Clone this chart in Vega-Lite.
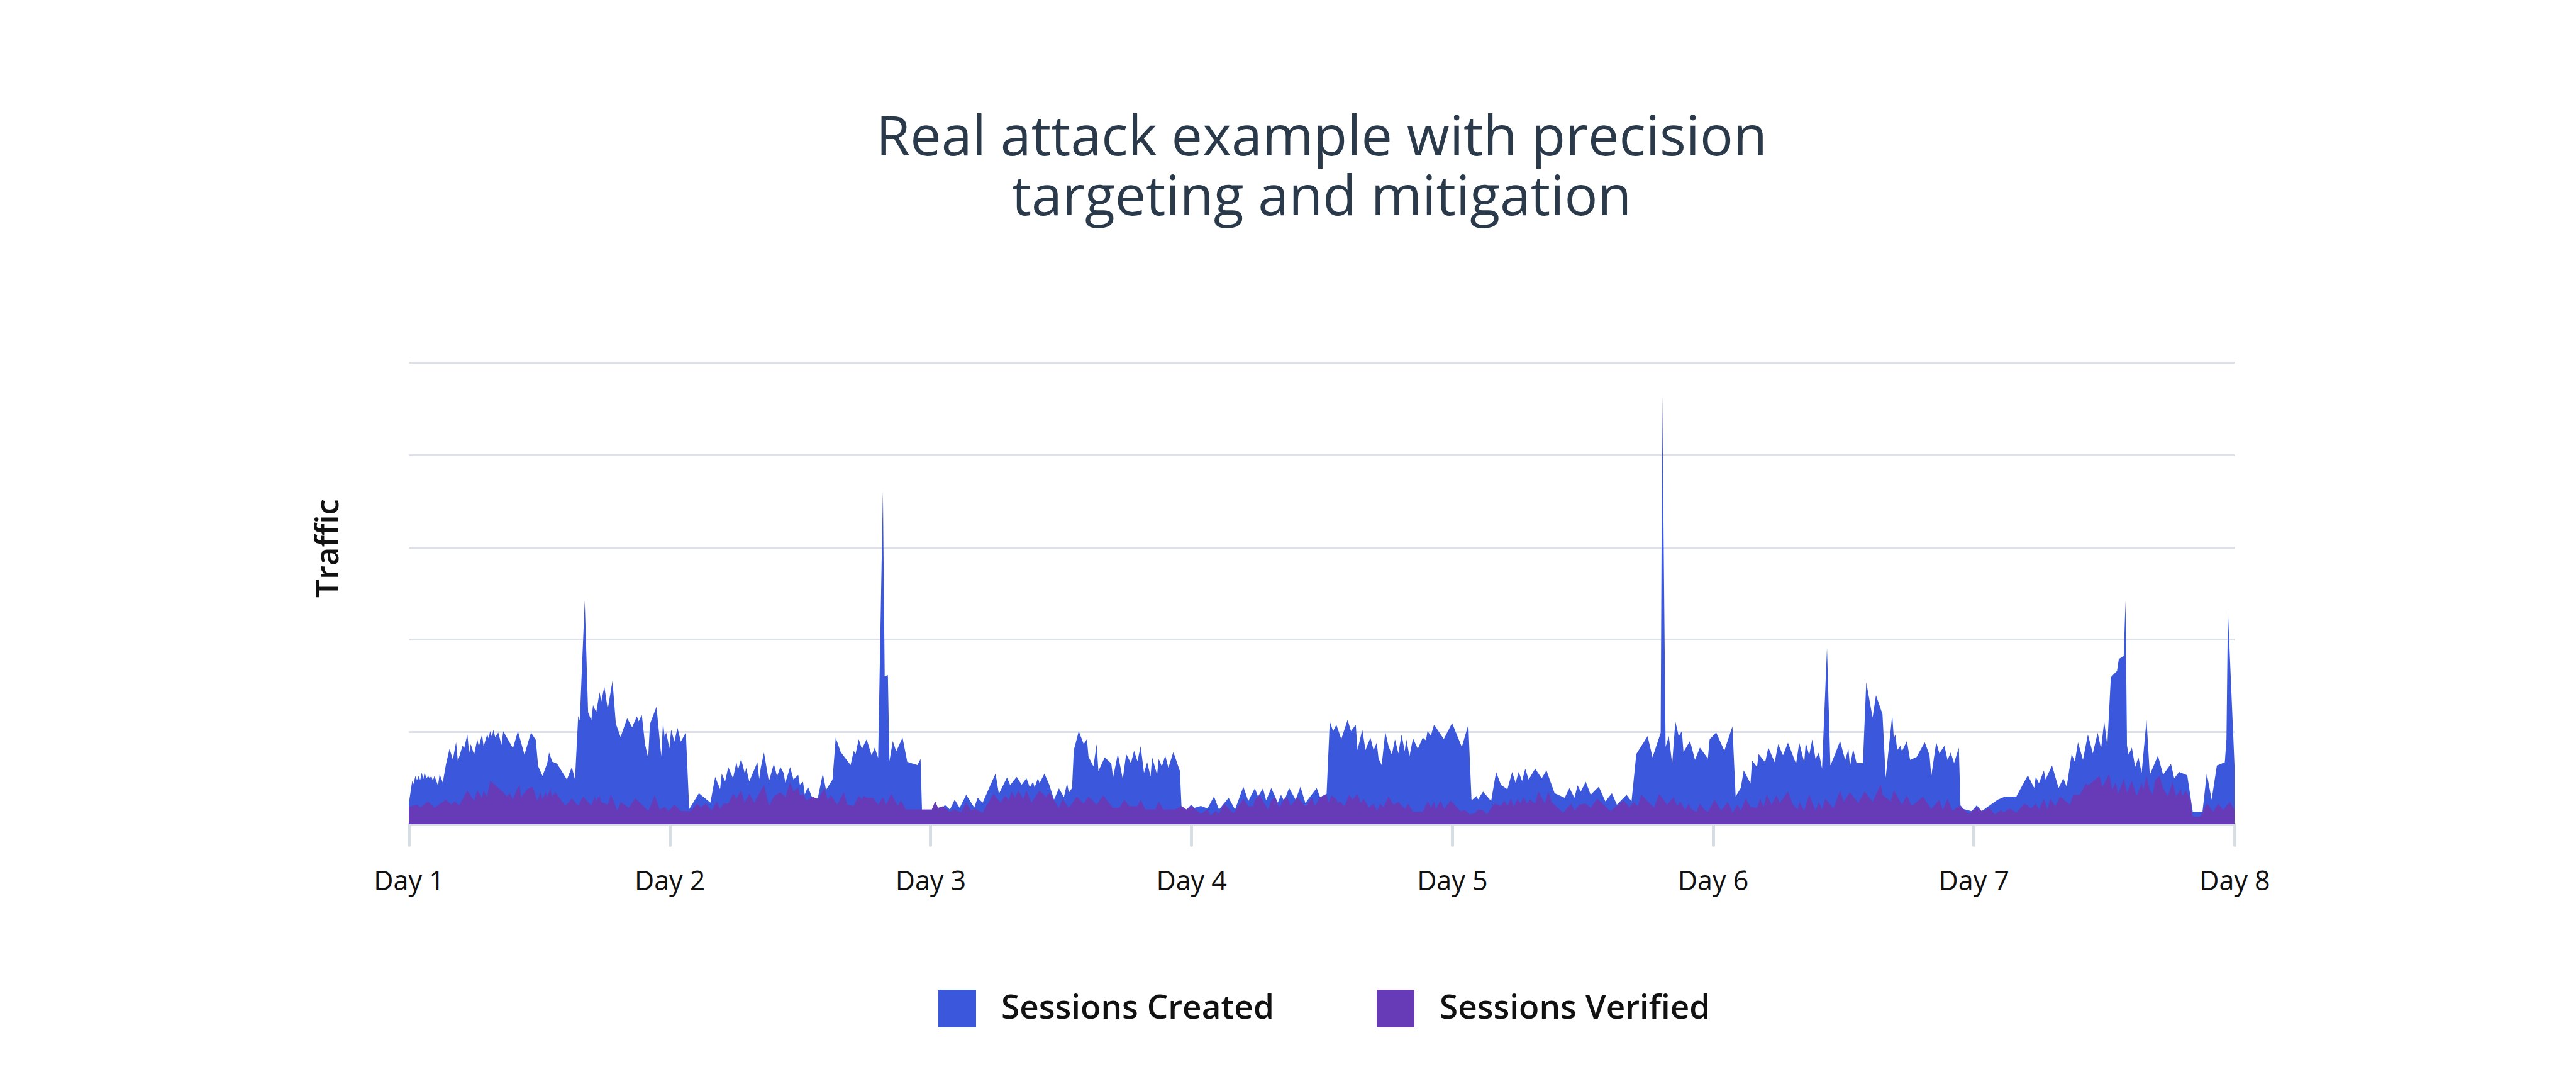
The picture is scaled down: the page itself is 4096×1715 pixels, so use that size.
{
"$schema": "https://vega.github.io/schema/vega-lite/v6.json",
"autosize": {"type": "none"},
"width": 2903,
"height": 734,
"padding": {"left": 650, "top": 576, "right": 543, "bottom": 405},
"background": "white",
"title": {"text": ["Real attack example with precision", "targeting and mitigation"], "anchor": "middle", "frame": "group", "font": "Open Sans", "fontSize": 88, "fontWeight": 500, "color": "#2b3a4a", "lineHeight": 95, "offset": 216},
"datasets": {
"created": [{"t":1.0,"v":0.223},{"t":1.0133,"v":0.47},{"t":1.0178,"v":0.435},{"t":1.0254,"v":0.523},{"t":1.0315,"v":0.477},{"t":1.0376,"v":0.523},{"t":1.0437,"v":0.477},{"t":1.0497,"v":0.558},{"t":1.0558,"v":0.488},{"t":1.0604,"v":0.558},{"t":1.068,"v":0.498},{"t":1.0741,"v":0.523},{"t":1.0802,"v":0.498},{"t":1.0862,"v":0.523},{"t":1.0923,"v":0.47},{"t":1.0984,"v":0.523},{"t":1.1121,"v":0.417},{"t":1.1182,"v":0.541},{"t":1.1303,"v":0.452},{"t":1.1425,"v":0.647},{"t":1.1562,"v":0.816},{"t":1.1691,"v":0.7},{"t":1.1813,"v":0.887},{"t":1.1881,"v":0.682},{"t":1.2063,"v":0.852},{"t":1.2124,"v":0.823},{"t":1.2246,"v":0.972},{"t":1.2314,"v":0.77},{"t":1.2375,"v":0.866},{"t":1.2504,"v":0.753},{"t":1.2626,"v":0.919},{"t":1.2687,"v":0.841},{"t":1.2808,"v":0.972},{"t":1.2869,"v":0.841},{"t":1.3006,"v":0.972},{"t":1.3059,"v":0.929},{"t":1.312,"v":1.007},{"t":1.3188,"v":0.947},{"t":1.3249,"v":1.025},{"t":1.331,"v":0.943},{"t":1.3432,"v":0.993},{"t":1.3553,"v":0.859},{"t":1.3622,"v":1.007},{"t":1.3994,"v":0.823},{"t":1.4184,"v":1.007},{"t":1.4435,"v":0.753},{"t":1.4686,"v":0.993},{"t":1.4868,"v":0.912},{"t":1.496,"v":0.629},{"t":1.5127,"v":0.523},{"t":1.5309,"v":0.661},{"t":1.5378,"v":0.777},{"t":1.5499,"v":0.678},{"t":1.5689,"v":0.654},{"t":1.6062,"v":0.484},{"t":1.6252,"v":0.618},{"t":1.6373,"v":0.484},{"t":1.6495,"v":1.17},{"t":1.6556,"v":1.124},{"t":1.6746,"v":2.42},{"t":1.6875,"v":1.212},{"t":1.6997,"v":1.124},{"t":1.7065,"v":1.29},{"t":1.7187,"v":1.212},{"t":1.7316,"v":1.431},{"t":1.7377,"v":1.325},{"t":1.7498,"v":1.488},{"t":1.7628,"v":1.247},{"t":1.781,"v":1.551},{"t":1.7939,"v":1.088},{"t":1.8122,"v":0.943},{"t":1.8373,"v":1.148},{"t":1.8563,"v":1.049},{"t":1.8745,"v":1.166},{"t":1.8813,"v":1.113},{"t":1.8935,"v":1.184},{"t":1.9057,"v":0.866},{"t":1.9178,"v":0.717},{"t":1.9247,"v":1.085},{"t":1.9498,"v":1.272},{"t":1.968,"v":0.735},{"t":1.9748,"v":1.106},{"t":1.9809,"v":0.947},{"t":1.987,"v":0.993},{"t":1.9992,"v":0.823},{"t":2.006,"v":1.025},{"t":2.0182,"v":0.894},{"t":2.0303,"v":1.042},{"t":2.0432,"v":0.894},{"t":2.0622,"v":0.993},{"t":2.0752,"v":0.163},{"t":2.1124,"v":0.336},{"t":2.1565,"v":0.233},{"t":2.1747,"v":0.512},{"t":2.1937,"v":0.378},{"t":2.1998,"v":0.548},{"t":2.2128,"v":0.463},{"t":2.2249,"v":0.618},{"t":2.2432,"v":0.498},{"t":2.2561,"v":0.671},{"t":2.2622,"v":0.59},{"t":2.2743,"v":0.707},{"t":2.2888,"v":0.541},{"t":2.2933,"v":0.611},{"t":2.3055,"v":0.463},{"t":2.3367,"v":0.671},{"t":2.3435,"v":0.488},{"t":2.3496,"v":0.611},{"t":2.3618,"v":0.777},{"t":2.3807,"v":0.463},{"t":2.3997,"v":0.654},{"t":2.4119,"v":0.519},{"t":2.4248,"v":0.618},{"t":2.437,"v":0.555},{"t":2.4438,"v":0.449},{"t":2.4621,"v":0.618},{"t":2.475,"v":0.484},{"t":2.4932,"v":0.534},{"t":2.4993,"v":0.428},{"t":2.5115,"v":0.459},{"t":2.5183,"v":0.322},{"t":2.5305,"v":0.406},{"t":2.5495,"v":0.265},{"t":2.5685,"v":0.286},{"t":2.5875,"v":0.548},{"t":2.5997,"v":0.371},{"t":2.6247,"v":0.484},{"t":2.6369,"v":0.936},{"t":2.6559,"v":0.781},{"t":2.6939,"v":0.64},{"t":2.7061,"v":0.795},{"t":2.7129,"v":0.76},{"t":2.7251,"v":0.919},{"t":2.7373,"v":0.816},{"t":2.7555,"v":0.919},{"t":2.7745,"v":0.746},{"t":2.7867,"v":0.83},{"t":2.7996,"v":0.717},{"t":2.8178,"v":3.604},{"t":2.8247,"v":1.601},{"t":2.8369,"v":1.615},{"t":2.8429,"v":0.682},{"t":2.8558,"v":0.901},{"t":2.8688,"v":0.788},{"t":2.8931,"v":0.936},{"t":2.9113,"v":0.675},{"t":2.9501,"v":0.64},{"t":2.9622,"v":0.707},{"t":2.9676,"v":0.159},{"t":3.0056,"v":0.159},{"t":3.0185,"v":0.247},{"t":3.0291,"v":0.124},{"t":3.0557,"v":0.208},{"t":3.0748,"v":0.159},{"t":3.093,"v":0.265},{"t":3.112,"v":0.177},{"t":3.1371,"v":0.318},{"t":3.1682,"v":0.18},{"t":3.1812,"v":0.286},{"t":3.2002,"v":0.233},{"t":3.2496,"v":0.548},{"t":3.2625,"v":0.329},{"t":3.2937,"v":0.505},{"t":3.3058,"v":0.424},{"t":3.3309,"v":0.512},{"t":3.3499,"v":0.428},{"t":3.3682,"v":0.498},{"t":3.3811,"v":0.399},{"t":3.3933,"v":0.459},{"t":3.3993,"v":0.399},{"t":3.4123,"v":0.498},{"t":3.4183,"v":0.445},{"t":3.4373,"v":0.548},{"t":3.4556,"v":0.428},{"t":3.4738,"v":0.265},{"t":3.4928,"v":0.389},{"t":3.5118,"v":0.293},{"t":3.524,"v":0.442},{"t":3.5308,"v":0.343},{"t":3.543,"v":0.392},{"t":3.5498,"v":0.802},{"t":3.5688,"v":1.007},{"t":3.5878,"v":0.866},{"t":3.6,"v":0.922},{"t":3.6061,"v":0.731},{"t":3.6251,"v":0.625},{"t":3.6373,"v":0.866},{"t":3.6441,"v":0.576},{"t":3.6684,"v":0.724},{"t":3.6935,"v":0.657},{"t":3.7003,"v":0.505},{"t":3.7186,"v":0.76},{"t":3.7376,"v":0.488},{"t":3.7505,"v":0.76},{"t":3.7688,"v":0.661},{"t":3.7809,"v":0.795},{"t":3.7938,"v":0.682},{"t":3.806,"v":0.845},{"t":3.8189,"v":0.555},{"t":3.8311,"v":0.671},{"t":3.844,"v":0.516},{"t":3.8501,"v":0.724},{"t":3.8691,"v":0.534},{"t":3.8752,"v":0.707},{"t":3.8873,"v":0.625},{"t":3.9003,"v":0.742},{"t":3.9124,"v":0.611},{"t":3.9314,"v":0.781},{"t":3.9565,"v":0.576},{"t":3.9626,"v":0.198},{"t":3.9816,"v":0.159},{"t":3.9998,"v":0.212},{"t":4.0128,"v":0.177},{"t":4.0371,"v":0.198},{"t":4.0622,"v":0.17},{"t":4.0873,"v":0.3},{"t":4.1063,"v":0.159},{"t":4.1435,"v":0.286},{"t":4.1679,"v":0.159},{"t":4.1998,"v":0.406},{"t":4.2188,"v":0.251},{"t":4.2439,"v":0.389},{"t":4.256,"v":0.3},{"t":4.275,"v":0.389},{"t":4.2872,"v":0.258},{"t":4.3069,"v":0.392},{"t":4.332,"v":0.233},{"t":4.3442,"v":0.318},{"t":4.3563,"v":0.251},{"t":4.3753,"v":0.392},{"t":4.4004,"v":0.265},{"t":4.4187,"v":0.406},{"t":4.4377,"v":0.23},{"t":4.481,"v":0.392},{"t":4.4939,"v":0.293},{"t":4.519,"v":0.329},{"t":4.5312,"v":1.113},{"t":4.5441,"v":1.007},{"t":4.5563,"v":1.078},{"t":4.5753,"v":0.922},{"t":4.5996,"v":1.131},{"t":4.6125,"v":1.007},{"t":4.6308,"v":1.078},{"t":4.6376,"v":0.802},{"t":4.6559,"v":1.025},{"t":4.668,"v":0.802},{"t":4.687,"v":0.936},{"t":4.6992,"v":0.802},{"t":4.7113,"v":0.883},{"t":4.7182,"v":0.71},{"t":4.7303,"v":0.64},{"t":4.744,"v":1.0},{"t":4.7562,"v":0.848},{"t":4.7691,"v":0.753},{"t":4.7813,"v":0.919},{"t":4.7942,"v":0.767},{"t":4.8064,"v":0.972},{"t":4.8185,"v":0.788},{"t":4.8246,"v":0.919},{"t":4.8368,"v":0.735},{"t":4.8504,"v":0.929},{"t":4.8687,"v":0.816},{"t":4.8877,"v":0.936},{"t":4.8998,"v":0.908},{"t":4.9059,"v":1.007},{"t":4.9188,"v":0.958},{"t":4.931,"v":1.078},{"t":4.9683,"v":0.922},{"t":5.0002,"v":1.095},{"t":5.0374,"v":0.837},{"t":5.0625,"v":1.078},{"t":5.0747,"v":0.258},{"t":5.0937,"v":0.304},{"t":5.0998,"v":0.269},{"t":5.1188,"v":0.353},{"t":5.1499,"v":0.251},{"t":5.1689,"v":0.565},{"t":5.1879,"v":0.424},{"t":5.2123,"v":0.378},{"t":5.2305,"v":0.565},{"t":5.2435,"v":0.449},{"t":5.2556,"v":0.565},{"t":5.2685,"v":0.466},{"t":5.2807,"v":0.601},{"t":5.2936,"v":0.484},{"t":5.3187,"v":0.601},{"t":5.3438,"v":0.498},{"t":5.362,"v":0.583},{"t":5.3932,"v":0.336},{"t":5.4319,"v":0.286},{"t":5.4502,"v":0.392},{"t":5.4692,"v":0.286},{"t":5.4814,"v":0.42},{"t":5.4935,"v":0.353},{"t":5.5125,"v":0.459},{"t":5.5315,"v":0.318},{"t":5.5627,"v":0.406},{"t":5.5878,"v":0.247},{"t":5.6128,"v":0.336},{"t":5.6319,"v":0.212},{"t":5.6691,"v":0.318},{"t":5.6881,"v":0.247},{"t":5.7064,"v":0.76},{"t":5.7497,"v":0.954},{"t":5.7687,"v":0.724},{"t":5.7999,"v":0.989},{"t":5.8059,"v":4.647},{"t":5.8188,"v":0.837},{"t":5.831,"v":0.954},{"t":5.8439,"v":0.654},{"t":5.8561,"v":1.113},{"t":5.869,"v":0.954},{"t":5.8812,"v":1.007},{"t":5.8873,"v":0.781},{"t":5.9124,"v":0.901},{"t":5.9314,"v":0.696},{"t":5.9504,"v":0.83},{"t":5.9808,"v":0.71},{"t":5.9876,"v":0.919},{"t":6.0127,"v":0.993},{"t":6.0439,"v":0.795},{"t":6.075,"v":1.06},{"t":6.0872,"v":0.3},{"t":6.1069,"v":0.392},{"t":6.1183,"v":0.583},{"t":6.1442,"v":0.442},{"t":6.1503,"v":0.689},{"t":6.1693,"v":0.618},{"t":6.1754,"v":0.76},{"t":6.2004,"v":0.671},{"t":6.2126,"v":0.83},{"t":6.2369,"v":0.671},{"t":6.2506,"v":0.866},{"t":6.2688,"v":0.746},{"t":6.2879,"v":0.883},{"t":6.319,"v":0.654},{"t":6.3312,"v":0.883},{"t":6.3502,"v":0.671},{"t":6.3563,"v":0.883},{"t":6.3692,"v":0.746},{"t":6.3814,"v":0.919},{"t":6.3935,"v":0.707},{"t":6.4065,"v":0.777},{"t":6.4186,"v":0.601},{"t":6.4376,"v":1.908},{"t":6.4505,"v":0.636},{"t":6.4688,"v":0.76},{"t":6.4878,"v":0.901},{"t":6.5015,"v":0.753},{"t":6.5075,"v":0.696},{"t":6.5197,"v":0.813},{"t":6.5258,"v":0.629},{"t":6.5379,"v":0.813},{"t":6.5509,"v":0.661},{"t":6.5752,"v":0.661},{"t":6.5881,"v":1.537},{"t":6.6124,"v":1.155},{"t":6.6254,"v":1.396},{"t":6.6504,"v":1.191},{"t":6.6626,"v":0.502},{"t":6.6877,"v":1.184},{"t":6.6938,"v":0.929},{"t":6.6998,"v":0.972},{"t":6.7067,"v":0.802},{"t":6.7189,"v":0.848},{"t":6.7249,"v":0.788},{"t":6.7439,"v":0.901},{"t":6.7561,"v":0.696},{"t":6.7812,"v":0.728},{"t":6.8124,"v":0.887},{"t":6.8306,"v":0.749},{"t":6.8374,"v":0.519},{"t":6.8564,"v":0.887},{"t":6.8686,"v":0.767},{"t":6.8876,"v":0.848},{"t":6.8998,"v":0.696},{"t":6.9119,"v":0.777},{"t":6.9248,"v":0.661},{"t":6.9431,"v":0.83},{"t":6.9492,"v":0.205},{"t":6.9614,"v":0.163},{"t":6.9925,"v":0.141},{"t":7.0115,"v":0.205},{"t":7.0305,"v":0.141},{"t":7.0921,"v":0.265},{"t":7.121,"v":0.3},{"t":7.1635,"v":0.3},{"t":7.2076,"v":0.53},{"t":7.232,"v":0.392},{"t":7.238,"v":0.512},{"t":7.2502,"v":0.442},{"t":7.2692,"v":0.583},{"t":7.2753,"v":0.484},{"t":7.3004,"v":0.636},{"t":7.3254,"v":0.392},{"t":7.3437,"v":0.498},{"t":7.3566,"v":0.406},{"t":7.3756,"v":0.76},{"t":7.3878,"v":0.675},{"t":7.3999,"v":0.887},{"t":7.419,"v":0.696},{"t":7.4379,"v":0.972},{"t":7.4567,"v":0.767},{"t":7.4754,"v":0.989},{"t":7.4884,"v":0.816},{"t":7.5004,"v":1.113},{"t":7.5123,"v":0.852},{"t":7.5259,"v":1.59},{"t":7.5497,"v":1.661},{"t":7.5565,"v":1.788},{"t":7.5753,"v":1.823},{"t":7.5821,"v":2.42},{"t":7.5878,"v":0.852},{"t":7.594,"v":0.753},{"t":7.6065,"v":0.83},{"t":7.619,"v":0.618},{"t":7.6315,"v":0.724},{"t":7.644,"v":0.555},{"t":7.6627,"v":1.131},{"t":7.6752,"v":0.534},{"t":7.7064,"v":0.742},{"t":7.7263,"v":0.534},{"t":7.7563,"v":0.654},{"t":7.7688,"v":0.498},{"t":7.7876,"v":0.565},{"t":7.8188,"v":0.53},{"t":7.8398,"v":0.134},{"t":7.8772,"v":0.134},{"t":7.8937,"v":0.548},{"t":7.9124,"v":0.265},{"t":7.9323,"v":0.636},{"t":7.9629,"v":0.671},{"t":7.9692,"v":0.922},{"t":7.9748,"v":2.307},{"t":8.0,"v":0.636}],
"verified": [{"t":1.0,"v":0.187},{"t":1.0315,"v":0.212},{"t":1.0437,"v":0.18},{"t":1.0741,"v":0.247},{"t":1.0984,"v":0.177},{"t":1.1425,"v":0.265},{"t":1.163,"v":0.212},{"t":1.1752,"v":0.247},{"t":1.1934,"v":0.205},{"t":1.2246,"v":0.364},{"t":1.2504,"v":0.251},{"t":1.2626,"v":0.364},{"t":1.2808,"v":0.286},{"t":1.2869,"v":0.364},{"t":1.2998,"v":0.293},{"t":1.312,"v":0.47},{"t":1.3622,"v":0.346},{"t":1.3751,"v":0.3},{"t":1.3873,"v":0.336},{"t":1.3994,"v":0.265},{"t":1.4123,"v":0.364},{"t":1.4245,"v":0.424},{"t":1.4306,"v":0.293},{"t":1.4557,"v":0.382},{"t":1.4747,"v":0.406},{"t":1.4929,"v":0.251},{"t":1.5059,"v":0.346},{"t":1.5119,"v":0.265},{"t":1.5249,"v":0.346},{"t":1.5309,"v":0.293},{"t":1.5431,"v":0.382},{"t":1.5499,"v":0.293},{"t":1.5621,"v":0.346},{"t":1.6001,"v":0.198},{"t":1.6252,"v":0.279},{"t":1.6495,"v":0.198},{"t":1.6685,"v":0.3},{"t":1.6997,"v":0.198},{"t":1.7126,"v":0.3},{"t":1.7187,"v":0.247},{"t":1.7308,"v":0.311},{"t":1.7377,"v":0.24},{"t":1.7628,"v":0.212},{"t":1.7749,"v":0.318},{"t":1.7999,"v":0.145},{"t":1.8122,"v":0.24},{"t":1.8433,"v":0.177},{"t":1.8684,"v":0.283},{"t":1.9186,"v":0.141},{"t":1.9429,"v":0.311},{"t":1.9619,"v":0.159},{"t":1.9809,"v":0.187},{"t":1.9961,"v":0.141},{"t":2.0182,"v":0.212},{"t":2.0432,"v":0.141},{"t":2.0813,"v":0.141},{"t":2.1056,"v":0.223},{"t":2.12,"v":0.18},{"t":2.1383,"v":0.223},{"t":2.1618,"v":0.145},{"t":2.1808,"v":0.247},{"t":2.1938,"v":0.166},{"t":2.2059,"v":0.223},{"t":2.2249,"v":0.223},{"t":2.2432,"v":0.329},{"t":2.2561,"v":0.276},{"t":2.2743,"v":0.364},{"t":2.2873,"v":0.233},{"t":2.3055,"v":0.329},{"t":2.3245,"v":0.233},{"t":2.3618,"v":0.424},{"t":2.3807,"v":0.198},{"t":2.3997,"v":0.3},{"t":2.4248,"v":0.346},{"t":2.4438,"v":0.29},{"t":2.4621,"v":0.452},{"t":2.475,"v":0.353},{"t":2.4932,"v":0.399},{"t":2.4993,"v":0.311},{"t":2.5115,"v":0.329},{"t":2.5244,"v":0.258},{"t":2.5495,"v":0.3},{"t":2.5685,"v":0.265},{"t":2.5936,"v":0.389},{"t":2.6057,"v":0.265},{"t":2.6187,"v":0.311},{"t":2.643,"v":0.212},{"t":2.6681,"v":0.346},{"t":2.681,"v":0.212},{"t":2.7061,"v":0.198},{"t":2.7251,"v":0.307},{"t":2.7373,"v":0.265},{"t":2.7433,"v":0.307},{"t":2.7563,"v":0.286},{"t":2.7806,"v":0.286},{"t":2.7996,"v":0.212},{"t":2.8178,"v":0.293},{"t":2.8307,"v":0.212},{"t":2.8497,"v":0.329},{"t":2.8748,"v":0.198},{"t":2.887,"v":0.258},{"t":2.906,"v":0.159},{"t":3.0056,"v":0.159},{"t":3.0185,"v":0.247},{"t":3.0291,"v":0.177},{"t":3.0482,"v":0.194},{"t":3.0725,"v":0.134},{"t":3.093,"v":0.159},{"t":3.1181,"v":0.127},{"t":3.1371,"v":0.233},{"t":3.1553,"v":0.145},{"t":3.169,"v":0.17},{"t":3.1812,"v":0.152},{"t":3.2002,"v":0.124},{"t":3.242,"v":0.329},{"t":3.2686,"v":0.233},{"t":3.2876,"v":0.311},{"t":3.2998,"v":0.258},{"t":3.3119,"v":0.353},{"t":3.3248,"v":0.286},{"t":3.337,"v":0.364},{"t":3.356,"v":0.272},{"t":3.3682,"v":0.364},{"t":3.3872,"v":0.233},{"t":3.4183,"v":0.364},{"t":3.4434,"v":0.293},{"t":3.4556,"v":0.346},{"t":3.4746,"v":0.258},{"t":3.4928,"v":0.17},{"t":3.5057,"v":0.276},{"t":3.5308,"v":0.177},{"t":3.5612,"v":0.3},{"t":3.5878,"v":0.223},{"t":3.6061,"v":0.3},{"t":3.6373,"v":0.212},{"t":3.6624,"v":0.311},{"t":3.6988,"v":0.177},{"t":3.7239,"v":0.177},{"t":3.7437,"v":0.265},{"t":3.7627,"v":0.194},{"t":3.7938,"v":0.194},{"t":3.806,"v":0.265},{"t":3.8243,"v":0.159},{"t":3.8623,"v":0.159},{"t":3.8752,"v":0.247},{"t":3.8934,"v":0.159},{"t":3.9375,"v":0.159},{"t":3.9626,"v":0.194},{"t":3.9816,"v":0.159},{"t":3.9998,"v":0.198},{"t":4.0371,"v":0.11},{"t":4.0622,"v":0.159},{"t":4.0744,"v":0.092},{"t":4.0934,"v":0.145},{"t":4.1063,"v":0.11},{"t":4.1253,"v":0.223},{"t":4.1618,"v":0.117},{"t":4.1998,"v":0.276},{"t":4.2188,"v":0.194},{"t":4.2378,"v":0.194},{"t":4.2439,"v":0.265},{"t":4.2621,"v":0.311},{"t":4.2879,"v":0.187},{"t":4.294,"v":0.152},{"t":4.3069,"v":0.258},{"t":4.3191,"v":0.293},{"t":4.3381,"v":0.18},{"t":4.3564,"v":0.276},{"t":4.3693,"v":0.286},{"t":4.3814,"v":0.198},{"t":4.4065,"v":0.293},{"t":4.4377,"v":0.194},{"t":4.4628,"v":0.286},{"t":4.4749,"v":0.194},{"t":4.4939,"v":0.293},{"t":4.519,"v":0.318},{"t":4.5266,"v":0.233},{"t":4.538,"v":0.311},{"t":4.5563,"v":0.269},{"t":4.5623,"v":0.23},{"t":4.5699,"v":0.247},{"t":4.5874,"v":0.194},{"t":4.6057,"v":0.318},{"t":4.6186,"v":0.265},{"t":4.6376,"v":0.329},{"t":4.6498,"v":0.23},{"t":4.6619,"v":0.272},{"t":4.6817,"v":0.18},{"t":4.6992,"v":0.223},{"t":4.7121,"v":0.141},{"t":4.7243,"v":0.223},{"t":4.7364,"v":0.18},{"t":4.7562,"v":0.3},{"t":4.7752,"v":0.212},{"t":4.7942,"v":0.24},{"t":4.82,"v":0.163},{"t":4.8307,"v":0.223},{"t":4.8504,"v":0.134},{"t":4.8877,"v":0.134},{"t":4.9067,"v":0.247},{"t":4.9188,"v":0.177},{"t":4.931,"v":0.247},{"t":4.9379,"v":0.159},{"t":4.9561,"v":0.258},{"t":4.9705,"v":0.163},{"t":4.9941,"v":0.258},{"t":5.0314,"v":0.141},{"t":5.0504,"v":0.152},{"t":5.0686,"v":0.106},{"t":5.0876,"v":0.117},{"t":5.0998,"v":0.159},{"t":5.1188,"v":0.152},{"t":5.134,"v":0.106},{"t":5.1621,"v":0.223},{"t":5.1872,"v":0.198},{"t":5.2001,"v":0.258},{"t":5.2123,"v":0.198},{"t":5.2252,"v":0.276},{"t":5.2374,"v":0.187},{"t":5.2503,"v":0.276},{"t":5.2624,"v":0.223},{"t":5.2746,"v":0.293},{"t":5.2875,"v":0.223},{"t":5.2997,"v":0.265},{"t":5.3187,"v":0.223},{"t":5.3309,"v":0.353},{"t":5.356,"v":0.223},{"t":5.3689,"v":0.353},{"t":5.3811,"v":0.24},{"t":5.3947,"v":0.205},{"t":5.4259,"v":0.124},{"t":5.457,"v":0.223},{"t":5.4692,"v":0.145},{"t":5.4882,"v":0.212},{"t":5.5125,"v":0.223},{"t":5.5315,"v":0.177},{"t":5.5566,"v":0.276},{"t":5.6068,"v":0.141},{"t":5.6569,"v":0.258},{"t":5.6813,"v":0.18},{"t":5.6942,"v":0.24},{"t":5.7124,"v":0.194},{"t":5.7254,"v":0.318},{"t":5.7748,"v":0.177},{"t":5.7938,"v":0.329},{"t":5.8249,"v":0.212},{"t":5.85,"v":0.293},{"t":5.8629,"v":0.194},{"t":5.8751,"v":0.247},{"t":5.8941,"v":0.152},{"t":5.9063,"v":0.223},{"t":5.9192,"v":0.159},{"t":5.9374,"v":0.134},{"t":5.9503,"v":0.223},{"t":5.9686,"v":0.152},{"t":5.9815,"v":0.134},{"t":6.0066,"v":0.265},{"t":6.0317,"v":0.145},{"t":6.0575,"v":0.24},{"t":6.0758,"v":0.124},{"t":6.094,"v":0.212},{"t":6.1069,"v":0.145},{"t":6.1259,"v":0.276},{"t":6.1442,"v":0.187},{"t":6.1693,"v":0.177},{"t":6.1815,"v":0.276},{"t":6.1944,"v":0.18},{"t":6.2065,"v":0.318},{"t":6.2255,"v":0.212},{"t":6.2438,"v":0.311},{"t":6.2567,"v":0.23},{"t":6.2879,"v":0.353},{"t":6.3069,"v":0.212},{"t":6.3251,"v":0.159},{"t":6.332,"v":0.24},{"t":6.3502,"v":0.145},{"t":6.3692,"v":0.318},{"t":6.3935,"v":0.145},{"t":6.4065,"v":0.24},{"t":6.4186,"v":0.159},{"t":6.4308,"v":0.276},{"t":6.4627,"v":0.17},{"t":6.4878,"v":0.364},{"t":6.5015,"v":0.24},{"t":6.5258,"v":0.346},{"t":6.5569,"v":0.23},{"t":6.582,"v":0.353},{"t":6.6124,"v":0.24},{"t":6.6436,"v":0.435},{"t":6.6504,"v":0.318},{"t":6.6816,"v":0.247},{"t":6.6938,"v":0.364},{"t":6.7249,"v":0.212},{"t":6.7439,"v":0.311},{"t":6.7622,"v":0.194},{"t":6.8055,"v":0.3},{"t":6.8367,"v":0.163},{"t":6.8686,"v":0.265},{"t":6.8815,"v":0.152},{"t":6.8998,"v":0.276},{"t":6.9188,"v":0.141},{"t":6.9431,"v":0.201},{"t":6.9614,"v":0.163},{"t":6.9804,"v":0.11},{"t":7.0115,"v":0.18},{"t":7.0305,"v":0.141},{"t":7.0488,"v":0.159},{"t":7.0617,"v":0.177},{"t":7.0799,"v":0.106},{"t":7.105,"v":0.152},{"t":7.1141,"v":0.127},{"t":7.1385,"v":0.17},{"t":7.1635,"v":0.124},{"t":7.1947,"v":0.223},{"t":7.2198,"v":0.17},{"t":7.238,"v":0.223},{"t":7.2502,"v":0.159},{"t":7.2692,"v":0.276},{"t":7.2821,"v":0.159},{"t":7.2943,"v":0.276},{"t":7.3125,"v":0.194},{"t":7.3315,"v":0.3},{"t":7.3687,"v":0.212},{"t":7.3817,"v":0.318},{"t":7.4068,"v":0.318},{"t":7.4311,"v":0.442},{"t":7.4379,"v":0.417},{"t":7.4816,"v":0.523},{"t":7.4941,"v":0.406},{"t":7.5191,"v":0.541},{"t":7.5316,"v":0.371},{"t":7.5441,"v":0.452},{"t":7.5537,"v":0.329},{"t":7.5758,"v":0.488},{"t":7.5884,"v":0.336},{"t":7.6065,"v":0.47},{"t":7.6252,"v":0.3},{"t":7.644,"v":0.452},{"t":7.6502,"v":0.371},{"t":7.6627,"v":0.523},{"t":7.6752,"v":0.371},{"t":7.6877,"v":0.318},{"t":7.6945,"v":0.47},{"t":7.7126,"v":0.523},{"t":7.7263,"v":0.389},{"t":7.745,"v":0.3},{"t":7.7626,"v":0.459},{"t":7.7762,"v":0.3},{"t":7.7938,"v":0.382},{"t":7.8001,"v":0.3},{"t":7.8126,"v":0.364},{"t":7.8307,"v":0.276},{"t":7.8398,"v":0.081},{"t":7.8693,"v":0.081},{"t":7.8937,"v":0.223},{"t":7.9187,"v":0.134},{"t":7.9374,"v":0.223},{"t":7.9562,"v":0.152},{"t":7.9817,"v":0.24},{"t":8.0,"v":0.152}]
},
"encoding": {
"x": {"field": "t", "type": "quantitative", "scale": {"domain": [1, 8], "nice": false, "zero": false},
 "axis": {"values": [1, 2, 3, 4, 5, 6, 7, 8], "labelExpr": "'Day ' + datum.value", "title": null, "grid": false, "domainColor": "#d6dee3", "domainWidth": 5, "domainCap": "round", "tickColor": "#d6dee3", "tickWidth": 5, "tickSize": 33, "tickCap": "round", "labelFont": "Open Sans", "labelFontSize": 43, "labelColor": "#111111", "labelBaseline": "alphabetic", "labelPadding": 71, "labelFlush": false, "labelOverlap": false}},
"y": {"field": "v", "type": "quantitative", "scale": {"domain": [0, 5], "nice": false},
 "axis": {"values": [1, 2, 3, 4, 5], "grid": true, "gridColor": "#dde0e8", "gridWidth": 3, "domain": false, "ticks": false, "labels": false, "title": "Traffic", "titleFont": "Open Sans", "titleFontSize": 51, "titleFontWeight": 600, "titleColor": "#111111", "titleX": -113, "titleY": 295, "titleAngle": 270, "titleBaseline": "alphabetic", "titleAlign": "center"}}
},
"layer": [
{"data": {"name": "created"}, "mark": {"type": "area", "opacity": 1, "interpolate": "linear"},
 "encoding": {"color": {"datum": "Sessions Created", "type": "nominal",
  "scale": {"domain": ["Sessions Created", "Sessions Verified"], "range": ["#3b57dc", "#673bb8"]},
  "legend": {"orient": "none", "legendX": 842, "legendY": 997, "direction": "horizontal", "title": null, "symbolType": "square", "symbolSize": 3600, "symbolStrokeWidth": 0, "symbolOpacity": 1, "labelFont": "Open Sans", "labelFontSize": 53, "labelFontWeight": 600, "labelColor": "#111111", "labelOffset": 40, "columnPadding": 163, "padding": 0, "labelLimit": 2000}}}},
{"data": {"name": "verified"}, "mark": {"type": "area", "opacity": 1, "interpolate": "linear"},
 "encoding": {"color": {"datum": "Sessions Verified", "type": "nominal"}}}
],
"config": {"view": {"stroke": null}}
}
